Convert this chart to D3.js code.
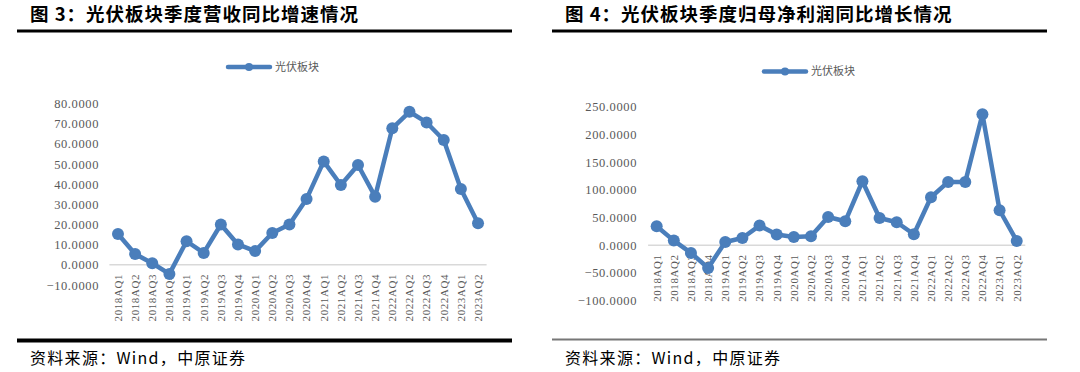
<!DOCTYPE html>
<html><head><meta charset="utf-8">
<script src="https://cdn.jsdelivr.net/npm/d3@7"></script>
<style>
html,body{margin:0;padding:0;background:#fff;}
svg{display:block;}
</style></head>
<body>
<svg id="c" width="1080" height="372"></svg>
<script>
const categories = ["2018AQ1","2018AQ2","2018AQ3","2018AQ4","2019AQ1","2019AQ2","2019AQ3","2019AQ4","2020AQ1","2020AQ2","2020AQ3","2020AQ4","2021AQ1","2021AQ2","2021AQ3","2021AQ4","2022AQ1","2022AQ2","2022AQ3","2022AQ4","2023AQ1","2023AQ2"];
const revenueYoY = [15.3,5.4,0.8,-4.5,11.7,5.9,20.0,10.1,6.8,15.8,20.0,32.7,51.3,39.6,49.5,33.8,67.7,75.9,70.6,61.9,37.6,20.6];
const profitYoY = [34.3,8.4,-13.8,-40.9,6.0,13.2,35.5,19.3,15.0,16.2,51.1,43.3,115.5,49.3,41.5,19.9,86.6,114.3,114.3,236.5,63.2,7.8];
const revenueTicks = [-10,0,10,20,30,40,50,60,70,80];
const profitTicks = [-100,-50,0,50,100,150,200,250];
const seriesName = "光伏板块";
const titles = ["图 3：光伏板块季度营收同比增速情况","图 4：光伏板块季度归母净利润同比增长情况"];
const source = "资料来源：Wind，中原证券";

const svg = d3.select("#c");
const blue = "#4a7ebb";

function panel(cfg){
  const g = svg.append("g");
  // title
  g.append("text").attr("x", cfg.x0 + 13).attr("y", 21)
    .attr("font-family","'Noto Sans CJK SC', sans-serif").attr("font-weight","bold")
    .attr("font-size", 18.5).attr("letter-spacing", 1).attr("fill","#000").text(cfg.title);
  g.append("rect").attr("x", cfg.x0).attr("y", 29.5).attr("width", cfg.w).attr("height", 3).attr("fill","#000");
  // footer
  g.append("rect").attr("x", cfg.x0).attr("y", 338.5).attr("width", cfg.w).attr("height", cfg.footH).attr("fill", cfg.footC);
  g.append("text").attr("x", cfg.x0 + 13).attr("y", 364)
    .attr("font-family","'Noto Sans CJK SC', sans-serif").attr("letter-spacing", 1.3)
    .attr("font-size", 16).attr("fill","#000").text(source);

  const x = d3.scaleBand().domain(categories).range(cfg.xr);
  const y = d3.scaleLinear().domain(cfg.yd).range(cfg.yr);

  // y tick labels
  const yAxis = d3.axisLeft(y).tickValues(cfg.ticks).tickFormat(d3.format(".4f")).tickSize(0).tickPadding(0);
  const ya = g.append("g").attr("transform", `translate(${cfg.ylx},0)`).call(yAxis);
  ya.select(".domain").remove();
  ya.selectAll("text").attr("font-family","'Liberation Serif', serif").attr("font-size", 12.5)
    .attr("fill","#595959").attr("letter-spacing", 0.6);

  // zero line
  g.append("line").attr("x1", cfg.xr[0]).attr("x2", cfg.xr[1]).attr("y1", y(0)).attr("y2", y(0))
    .attr("stroke","#d9d9d9").attr("stroke-width", 1.5);

  // x labels
  const xAxis = d3.axisBottom(x).tickSize(0).tickPadding(0);
  const xa = g.append("g").attr("transform", `translate(0,${y(0)})`).call(xAxis);
  xa.select(".domain").remove();
  xa.selectAll("text").attr("transform","rotate(-90)").attr("text-anchor","end")
    .attr("x", -9).attr("y", 0).attr("dy","0.35em")
    .attr("font-family","'Liberation Serif', serif").attr("font-size", 11)
    .attr("fill","#595959").attr("letter-spacing", 0.6);

  // line
  const line = d3.line().x((d,i)=>x(categories[i]) + x.bandwidth()/2).y(d=>y(d));
  g.append("path").datum(cfg.values).attr("d", line).attr("fill","none")
    .attr("stroke", blue).attr("stroke-width", 4.5).attr("stroke-linejoin","round");
  g.selectAll("circle.pt").data(cfg.values).join("circle").attr("class","pt")
    .attr("cx",(d,i)=>x(categories[i]) + x.bandwidth()/2).attr("cy", d=>y(d))
    .attr("r", 6).attr("fill", blue);

  // legend
  const lg = g.append("g").attr("transform", `translate(${cfg.lx},${cfg.ly})`);
  lg.append("line").attr("x1",0).attr("x2",42).attr("y1",0).attr("y2",0).attr("stroke",blue).attr("stroke-width",4.5).attr("stroke-linecap","round");
  lg.append("circle").attr("cx",21).attr("cy",0).attr("r",4).attr("fill",blue);
  lg.append("text").attr("x",47).attr("y",0).attr("dy","0.35em")
    .attr("font-family","'Noto Sans CJK SC', sans-serif").attr("font-size",11).attr("fill","#595959").text(seriesName);
}

panel({x0:17, w:495, title:titles[0], values:revenueYoY, ticks:revenueTicks,
  xr:[109.4, 486.6], yd:[-10,80], yr:[285,103.5], ylx:99, lx:228, ly:67, footH:4, footC:"#000"});
panel({x0:552, w:495, title:titles[1], values:profitYoY, ticks:profitTicks,
  xr:[648.1, 1025.3], yd:[-100,250], yr:[300.7,106.7], ylx:637, lx:764, ly:71.5, footH:2, footC:"#777"});
</script>
</body></html>
